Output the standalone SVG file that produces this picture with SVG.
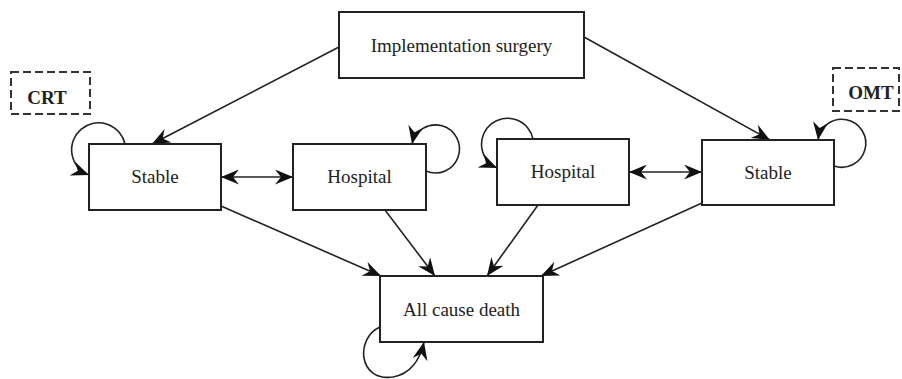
<svg xmlns="http://www.w3.org/2000/svg" width="902" height="379" viewBox="0 0 902 379">
<style>
.box{fill:#fff;stroke:#222;stroke-width:2}
.dash{fill:#fff;stroke:#333;stroke-width:2;stroke-dasharray:8 4}
.lbl{font-family:"Liberation Serif",serif;font-size:19px;fill:#222;text-anchor:middle}
.tag{font-family:"Liberation Serif",serif;font-size:19px;font-weight:bold;fill:#222;text-anchor:middle}
.ln{fill:none;stroke:#222;stroke-width:1.6;marker-end:url(#ah)}
.dbl{fill:none;stroke:#222;stroke-width:1.6;marker-end:url(#ah);marker-start:url(#ah)}
</style>
<defs>
<marker id="ah" markerWidth="19" markerHeight="15" refX="18" refY="7.5" orient="auto-start-reverse" markerUnits="userSpaceOnUse">
<path d="M0,0 L18,7.5 L0,15 L6,7.5 z" fill="#111"/>
</marker>
</defs>
<rect width="902" height="379" fill="#fff"/>
<g id="connectors">
<line class="ln" x1="339" y1="47" x2="152" y2="144"/>
<line class="ln" x1="584" y1="37" x2="770" y2="140"/>
<line class="dbl" x1="221" y1="177" x2="293" y2="177"/>
<line class="dbl" x1="629" y1="172" x2="702" y2="172"/>
<line class="ln" x1="221" y1="206" x2="381" y2="276"/>
<line class="ln" x1="385" y1="210" x2="435" y2="276"/>
<line class="ln" x1="538" y1="205" x2="487" y2="276"/>
<line class="ln" x1="702" y1="203" x2="541" y2="276"/>
<path class="ln" d="M125,144 A27,27 0 1 0 89,175"/>
<path class="ln" d="M426,171 A24,24 0 1 0 412,144"/>
<path class="ln" d="M533,139 A26,26 0 1 0 497,168"/>
<path class="ln" d="M834,166 A24,24 0 1 0 818,140"/>
<path class="ln" d="M380,327 C355,338 358,382 393,377 C410,374 420,360 424,342"/>
</g>
<g id="crt"><rect class="dash" x="11" y="72" width="79" height="42"/><text class="tag" x="47" y="104">CRT</text></g>
<g id="omt"><rect class="dash" x="833" y="68" width="66" height="43"/><text class="tag" x="871" y="99">OMT</text></g>
<g id="implementation"><rect class="box" x="339" y="12" width="245" height="66"/><text class="lbl" x="461.5" y="52">Implementation surgery</text></g>
<g id="stable-left"><rect class="box" x="89" y="144" width="132" height="66"/><text class="lbl" x="155" y="183">Stable</text></g>
<g id="hospital-left"><rect class="box" x="293" y="144" width="133" height="66"/><text class="lbl" x="359.5" y="183">Hospital</text></g>
<g id="hospital-right"><rect class="box" x="497" y="139" width="132" height="66"/><text class="lbl" x="563" y="178">Hospital</text></g>
<g id="stable-right"><rect class="box" x="702" y="140" width="132" height="65"/><text class="lbl" x="768" y="179">Stable</text></g>
<g id="death"><rect class="box" x="380" y="276" width="163" height="66"/><text class="lbl" x="461.5" y="316">All cause death</text></g>
</svg>
